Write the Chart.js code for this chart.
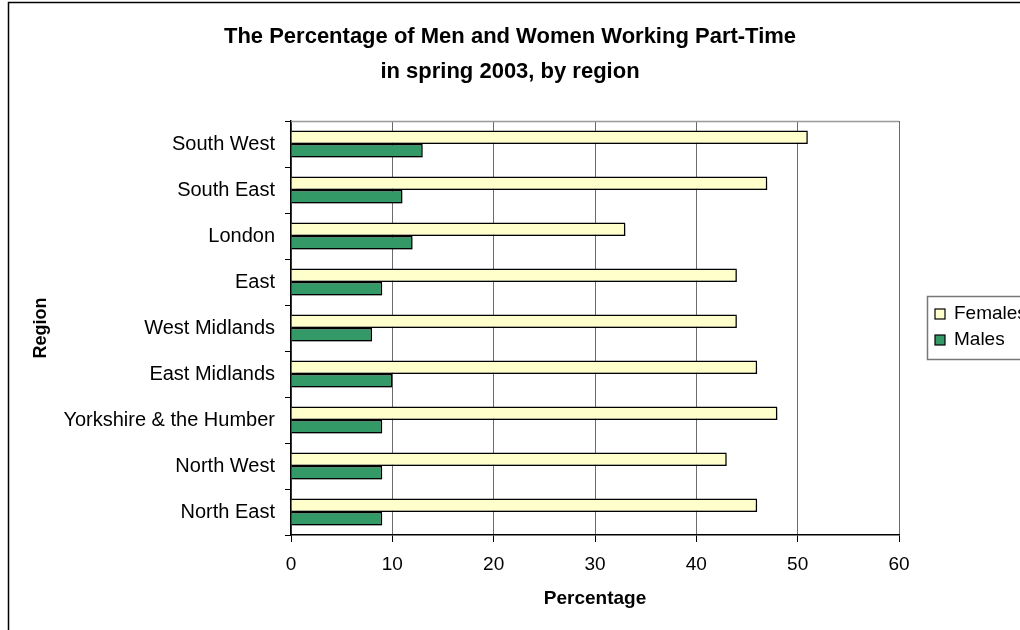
<!DOCTYPE html>
<html>
<head>
<meta charset="utf-8">
<title>Part-time work by region, spring 2003</title>
<script src="https://cdn.jsdelivr.net/npm/chart.js@4.4.1/dist/chart.umd.min.js"></script>
<style>
    html, body { margin: 0; padding: 0; background: #fff; }
    #wrap { width: 1020px; height: 630px; position: relative; }
</style>
</head>
<body>
<div id="wrap"><canvas id="partTimeChart" width="1020" height="630"></canvas></div>
<script>
// Chart data
const regions = ['South West', 'South East', 'London', 'East', 'West Midlands',
    'East Midlands', 'Yorkshire & the Humber', 'North West', 'North East'];
const females = [51, 47, 33, 44, 44, 46, 48, 43, 46];
const males = [13, 11, 12, 9, 8, 10, 9, 9, 9];
const xTicks = [0, 10, 20, 30, 40, 50, 60];
const titleLines = ['The Percentage of Men and Women Working Part-Time', 'in spring 2003, by region'];

const FONT = "'Liberation Sans', Arial, sans-serif";

// Draws title, frame, plot border and legend like the old spreadsheet chart
const excelLook = {
    id: 'excelLook',
    beforeDatasetsDraw(chart) {
        const ctx = chart.ctx;
        ctx.save();
        ctx.shadowColor = 'rgba(0,0,0,0.28)';
        ctx.shadowOffsetX = 2;
        ctx.shadowOffsetY = 2;
        ctx.shadowBlur = 1;
    },
    afterDatasetsDraw(chart) {
        chart.ctx.restore();
    },
    afterDraw(chart) {
        const ctx = chart.ctx;
        const area = chart.chartArea;
        ctx.save();

        // outer frame
        ctx.strokeStyle = '#000';
        ctx.lineWidth = 1.5;
        ctx.strokeRect(8.5, 2.5, 1100, 700);

        // plot area top border
        ctx.strokeStyle = '#999';
        ctx.lineWidth = 1.5;
        ctx.beginPath();
        ctx.moveTo(area.left, area.top + 0.5);
        ctx.lineTo(area.right, area.top + 0.5);
        ctx.stroke();

        // title
        ctx.fillStyle = '#000';
        ctx.font = 'bold 22px ' + FONT;
        ctx.textAlign = 'center';
        ctx.textBaseline = 'middle';
        ctx.fillText(titleLines[0], 510, 37);
        ctx.fillText(titleLines[1], 510, 72);

        // legend
        const lx = 927, ly = 296;
        ctx.fillStyle = '#fff';
        ctx.fillRect(lx, ly, 120, 63);
        ctx.strokeStyle = '#777';
        ctx.lineWidth = 1.5;
        ctx.strokeRect(lx + 0.5, ly + 0.5, 120, 63);
        ctx.font = '19px ' + FONT;
        ctx.textAlign = 'left';
        chart.data.datasets.forEach((ds, i) => {
            const y = ly + 18 + i * 26;
            ctx.fillStyle = ds.backgroundColor;
            ctx.fillRect(lx + 8, y - 5, 10, 10);
            ctx.strokeStyle = '#000';
            ctx.lineWidth = 1.2;
            ctx.strokeRect(lx + 8, y - 5, 10, 10);
            ctx.fillStyle = '#000';
            ctx.fillText(ds.label, lx + 27, y);
        });
        ctx.restore();
    }
};

document.addEventListener('DOMContentLoaded', function() {
    const canvas = document.getElementById('partTimeChart');

    new Chart(canvas, {
        type: 'bar',
        data: {
            labels: regions,
            datasets: [{
                label: 'Females',
                data: females,
                backgroundColor: '#FFFFCC',
                borderColor: '#000',
                borderWidth: 1.5
            }, {
                label: 'Males',
                data: males,
                backgroundColor: '#339966',
                borderColor: '#000',
                borderWidth: 1.5
            }]
        },
        options: {
            indexAxis: 'y',
            responsive: false,
            animation: false,
            layout: {
                padding: { left: 0, right: 121, top: 121, bottom: 0 }
            },
            datasets: {
                bar: { categoryPercentage: 0.59, barPercentage: 1.0 }
            },
            scales: {
                x: {
                    min: 0,
                    max: 60,
                    afterFit: (scale) => { scale.height = 95; },
                    afterBuildTicks: (scale) => {
                        scale.ticks = xTicks.map(v => ({ value: v }));
                    },
                    grid: {
                        color: '#6b6b6b',
                        tickColor: '#000',
                        tickLength: 7,
                        lineWidth: 1
                    },
                    border: { color: '#000', width: 1.5 },
                    ticks: {
                        color: '#000',
                        padding: 11,
                        font: { family: FONT, size: 19 }
                    },
                    title: {
                        display: true,
                        text: 'Percentage',
                        color: '#000',
                        padding: { top: 0, bottom: 20 },
                        font: { family: FONT, size: 19, weight: 'bold' }
                    }
                },
                y: {
                    afterFit: (scale) => { scale.width = 291; },
                    grid: {
                        drawOnChartArea: false,
                        tickColor: '#000',
                        tickLength: 6,
                        offset: true
                    },
                    border: { color: '#000', width: 1.5 },
                    ticks: {
                        color: '#000',
                        padding: 10,
                        font: { family: FONT, size: 20 }
                    },
                    title: {
                        display: true,
                        text: 'Region',
                        color: '#000',
                        padding: { top: 30, bottom: 0 },
                        font: { family: FONT, size: 18, weight: 'bold' }
                    }
                }
            },
            plugins: {
                legend: { display: false },
                title: { display: false },
                tooltip: { enabled: false }
            }
        },
        plugins: [excelLook]
    });
});
</script>
</body>
</html>
